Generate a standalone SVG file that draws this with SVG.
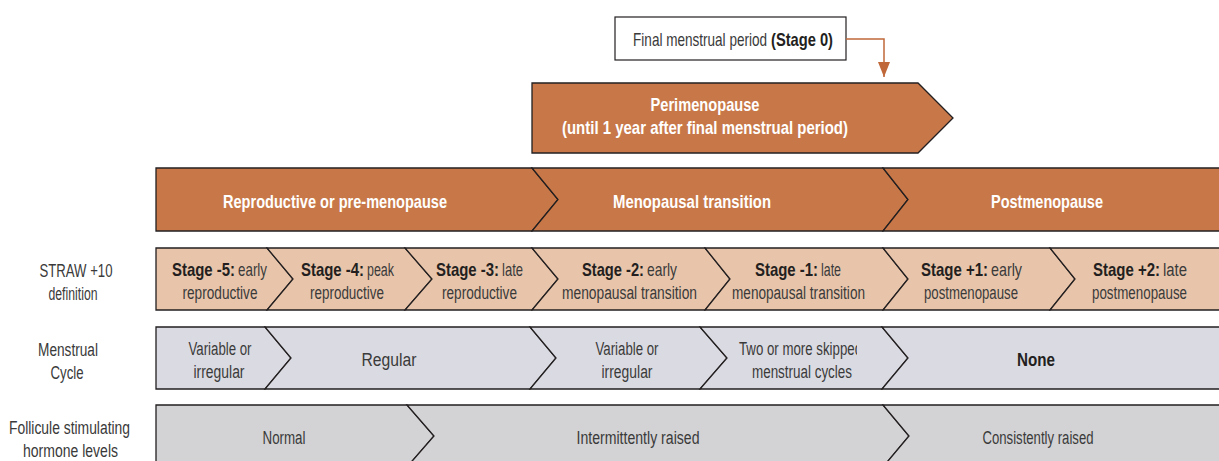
<svg xmlns="http://www.w3.org/2000/svg" width="1219" height="461" viewBox="0 0 1219 461">
<style>
text{font-family:"Liberation Sans",Arial,sans-serif;font-size:18px;fill:#3a3a3a;text-anchor:middle}
.s{text-anchor:start}
.e{text-anchor:end}
.b{font-weight:bold;fill:#231f20}
.w{font-weight:bold;fill:#ffffff;font-size:19px}
.ph{fill:#c87848;stroke:#231f20;stroke-width:1.3}
.st{fill:#e8c5aa;stroke:#231f20;stroke-width:1.3}
.mc{fill:#dadae2;stroke:#231f20;stroke-width:1.3}
.fs{fill:#d3d3d5;stroke:#231f20;stroke-width:1.3}
.lbl{fill:#3a3a3a}
</style>
<defs>
<marker id="ah" viewBox="0 0 15 12" refX="15" refY="6" markerWidth="15" markerHeight="12" orient="auto" markerUnits="userSpaceOnUse">
<path d="M0,0 L15,6 L0,12 z" fill="#c0683a"/>
</marker>
<clipPath id="cl"><rect x="700" y="327" width="157" height="62"/></clipPath>
</defs>

<g id="final-period">
<rect x="615" y="17" width="231" height="43" fill="#ffffff" stroke="#231f20" stroke-width="1.2"/>
<text class="e" transform="translate(767,46) scale(0.7524,1)" textLength="178" lengthAdjust="spacingAndGlyphs">Final menstrual period</text>
<text class="s b" transform="translate(771,46) scale(0.8158,1)" textLength="76" lengthAdjust="spacingAndGlyphs">(Stage 0)</text>
</g>

<g id="connectors">
<polyline points="846,39 884,39 884,77" fill="none" stroke="#c0683a" stroke-width="1.5" marker-end="url(#ah)"/>
</g>

<g id="perimenopause">
<polygon class="ph" points="532,83 918,83 953,118 918,153 532,153"/>
<text class="w" x="705" y="111" textLength="109" lengthAdjust="spacingAndGlyphs">Perimenopause</text>
<text class="w" x="705" y="134" textLength="286" lengthAdjust="spacingAndGlyphs">(until 1 year after final menstrual period)</text>
</g>

<g id="phase-reproductive">
<polygon class="ph" points="156,168 532,168 558,199.5 532,231 156,231"/>
<text class="w" x="335" y="208" textLength="224" lengthAdjust="spacingAndGlyphs">Reproductive or pre-menopause</text>
</g>
<g id="phase-transition">
<polygon class="ph" points="532,168 883,168 908,199.5 883,231 532,231 558,199.5"/>
<text class="w" x="692" y="208" textLength="158" lengthAdjust="spacingAndGlyphs">Menopausal transition</text>
</g>
<g id="phase-post">
<polygon class="ph" points="883,168 1225,168 1225,231 883,231 908,199.5"/>
<text class="w" x="1047" y="208" textLength="112" lengthAdjust="spacingAndGlyphs">Postmenopause</text>
</g>

<g id="label-straw">
<text class="lbl" x="76" y="277" textLength="73" lengthAdjust="spacingAndGlyphs">STRAW +10</text>
<text class="lbl" x="73" y="300" textLength="49" lengthAdjust="spacingAndGlyphs">definition</text>
</g>
<g id="stage-m5">
<polygon class="st" points="156,248 267,248 293,279 267,310 156,310"/>
<text class="e b" transform="translate(235,276) scale(0.8289,1)" textLength="76" lengthAdjust="spacingAndGlyphs">Stage -5:</text>
<text class="s" transform="translate(238,276) scale(0.7436,1)" textLength="39" lengthAdjust="spacingAndGlyphs">early</text>
<text x="220" y="299" textLength="75" lengthAdjust="spacingAndGlyphs">reproductive</text>
</g>
<g id="stage-m4">
<polygon class="st" points="267,248 405,248 432,279 405,310 267,310 293,279"/>
<text class="e b" transform="translate(364,276) scale(0.8289,1)" textLength="76" lengthAdjust="spacingAndGlyphs">Stage -4:</text>
<text class="s" transform="translate(367,276) scale(0.6923,1)" textLength="39" lengthAdjust="spacingAndGlyphs">peak</text>
<text x="347" y="299" textLength="74" lengthAdjust="spacingAndGlyphs">reproductive</text>
</g>
<g id="stage-m3">
<polygon class="st" points="405,248 532,248 558,279 532,310 405,310 432,279"/>
<text class="e b" transform="translate(499,276) scale(0.8289,1)" textLength="76" lengthAdjust="spacingAndGlyphs">Stage -3:</text>
<text class="s" transform="translate(502,276) scale(0.7241,1)" textLength="29" lengthAdjust="spacingAndGlyphs">late</text>
<text x="479.5" y="299" textLength="75" lengthAdjust="spacingAndGlyphs">reproductive</text>
</g>
<g id="stage-m2">
<polygon class="st" points="532,248 705,248 730,279 705,310 532,310 558,279"/>
<text class="e b" transform="translate(644,276) scale(0.8158,1)" textLength="76" lengthAdjust="spacingAndGlyphs">Stage -2:</text>
<text class="s" transform="translate(647,276) scale(0.7692,1)" textLength="39" lengthAdjust="spacingAndGlyphs">early</text>
<text x="629.5" y="299" textLength="135" lengthAdjust="spacingAndGlyphs">menopausal transition</text>
</g>
<g id="stage-m1">
<polygon class="st" points="705,248 883,248 908,279 883,310 705,310 730,279"/>
<text class="e b" transform="translate(818,276) scale(0.8289,1)" textLength="76" lengthAdjust="spacingAndGlyphs">Stage -1:</text>
<text class="s" transform="translate(821,276) scale(0.6897,1)" textLength="29" lengthAdjust="spacingAndGlyphs">late</text>
<text x="798.5" y="299" textLength="133" lengthAdjust="spacingAndGlyphs">menopausal transition</text>
</g>
<g id="stage-p1">
<polygon class="st" points="883,248 1050,248 1075,279 1050,310 883,310 908,279"/>
<text class="e b" transform="translate(988,276) scale(0.8323,1)" textLength="80.5" lengthAdjust="spacingAndGlyphs">Stage +1:</text>
<text class="s" transform="translate(991,276) scale(0.7949,1)" textLength="39" lengthAdjust="spacingAndGlyphs">early</text>
<text x="971" y="299" textLength="94" lengthAdjust="spacingAndGlyphs">postmenopause</text>
</g>
<g id="stage-p2">
<polygon class="st" points="1050,248 1225,248 1225,310 1050,310 1075,279"/>
<text class="e b" transform="translate(1160,276) scale(0.8323,1)" textLength="80.5" lengthAdjust="spacingAndGlyphs">Stage +2:</text>
<text class="s" transform="translate(1163,276) scale(0.8276,1)" textLength="29" lengthAdjust="spacingAndGlyphs">late</text>
<text x="1139.5" y="299" textLength="95" lengthAdjust="spacingAndGlyphs">postmenopause</text>
</g>

<g id="label-menstrual">
<text class="lbl" x="68" y="356" textLength="60" lengthAdjust="spacingAndGlyphs">Menstrual</text>
<text class="lbl" x="67" y="379" textLength="33" lengthAdjust="spacingAndGlyphs">Cycle</text>
</g>
<g id="mc-variable1">
<polygon class="mc" points="156,327 265,327 291,358 265,389 156,389"/>
<text x="220" y="355" textLength="63" lengthAdjust="spacingAndGlyphs">Variable or</text>
<text x="219" y="378" textLength="51" lengthAdjust="spacingAndGlyphs">irregular</text>
</g>
<g id="mc-regular">
<polygon class="mc" points="265,327 530,327 556,358 530,389 265,389 291,358"/>
<text x="389" y="366" textLength="55" lengthAdjust="spacingAndGlyphs">Regular</text>
</g>
<g id="mc-variable2">
<polygon class="mc" points="530,327 700,327 727,358 700,389 530,389 556,358"/>
<text x="627" y="355" textLength="63" lengthAdjust="spacingAndGlyphs">Variable or</text>
<text x="627" y="378" textLength="51" lengthAdjust="spacingAndGlyphs">irregular</text>
</g>
<g id="mc-skipped">
<polygon class="mc" points="700,327 882,327 908,358 882,389 700,389 727,358"/>
<text class="s" x="739" y="355" textLength="123" lengthAdjust="spacingAndGlyphs" clip-path="url(#cl)">Two or more skipped</text>
<text x="802" y="378" textLength="100" lengthAdjust="spacingAndGlyphs">menstrual cycles</text>
</g>
<g id="mc-none">
<polygon class="mc" points="882,327 1225,327 1225,389 882,389 908,358"/>
<text class="b" x="1036" y="366" textLength="38" lengthAdjust="spacingAndGlyphs">None</text>
</g>

<g id="label-fsh">
<text class="lbl" x="69.5" y="434" textLength="121" lengthAdjust="spacingAndGlyphs">Follicule stimulating</text>
<text class="lbl" x="70.5" y="457" textLength="95" lengthAdjust="spacingAndGlyphs">hormone levels</text>
</g>
<g id="fsh-normal">
<polygon class="fs" points="156,405 407,405 434,436 407,467 156,467"/>
<text x="284" y="444" textLength="43" lengthAdjust="spacingAndGlyphs">Normal</text>
</g>
<g id="fsh-intermittent">
<polygon class="fs" points="407,405 883,405 909,436 883,467 407,467 434,436"/>
<text x="638" y="444" textLength="123" lengthAdjust="spacingAndGlyphs">Intermittently raised</text>
</g>
<g id="fsh-consistent">
<polygon class="fs" points="883,405 1225,405 1225,467 883,467 909,436"/>
<text x="1038" y="444" textLength="111" lengthAdjust="spacingAndGlyphs">Consistently raised</text>
</g>
</svg>
